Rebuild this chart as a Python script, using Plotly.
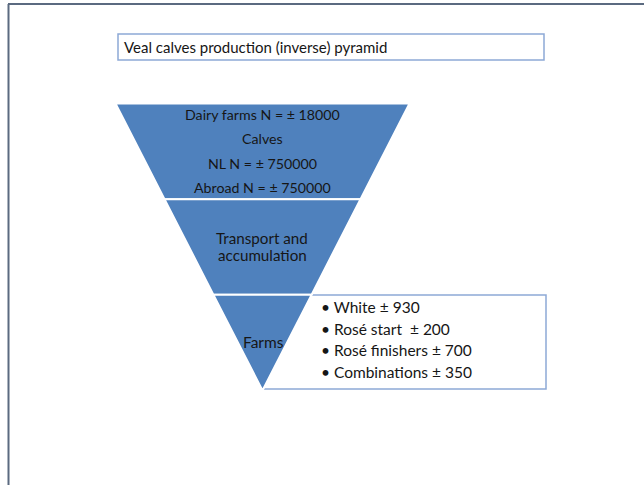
import plotly.graph_objects as go

W, H = 644, 485

# ---- data ----
stage_labels = ["Dairy farms & calves", "Transport and accumulation", "Farms"]
stage_values = [5, 3, 1]  # relative section areas of the inverse pyramid (equal heights)
top_lines = ["Dairy farms N = ± 18000", "Calves", "NL N = ± 750000", "Abroad N = ± 750000"]
middle_text = ["Transport and", "accumulation"]
bottom_text = ["Farms"]
farm_items = ["White ± 930", "Rosé start  ± 200", "Rosé finishers ± 700", "Combinations ± 350"]
title_text = "Veal calves production (inverse) pyramid"

FONT = "Lato, 'Noto Sans', sans-serif"
BLUE = "#4F81BD"
BOX = "#8DA9D6"
FRAME = "#5B6A80"
TXT = "#161616"


def px(x):
    return x / W


def py(y):
    return 1 - y / H


fig = go.Figure()

# inverse pyramid
left, right, top, bottom = 115.5, 409.5, 103.5, 390.5
fig.add_trace(go.Funnelarea(
    labels=stage_labels,
    values=stage_values,
    baseratio=0,
    aspectratio=(bottom - top) / (right - left),
    domain=dict(x=[px(left), px(right)], y=[py(bottom), py(top)]),
    marker=dict(colors=[BLUE] * 3, line=dict(color="white", width=2)),
    textinfo="none",
    hoverinfo="label",
    showlegend=False,
))

shapes = []
# frame (top and left lines)
shapes.append(dict(type="line", xref="paper", yref="paper", x0=px(8), x1=px(W + 5),
                   y0=py(4), y1=py(4), line=dict(color=FRAME, width=2)))
shapes.append(dict(type="line", xref="paper", yref="paper", x0=px(8.5), x1=px(8.5),
                   y0=py(4), y1=py(H + 5), line=dict(color=FRAME, width=2)))
# title box
shapes.append(dict(type="rect", xref="paper", yref="paper", x0=px(118), x1=px(544),
                   y0=py(60), y1=py(34), line=dict(color=BOX, width=1.5)))
# list box (behind pyramid)
shapes.append(dict(type="rect", xref="paper", yref="paper", x0=px(263), x1=px(546),
                   y0=py(389), y1=py(295), line=dict(color=BOX, width=1.5),
                   fillcolor="white", layer="below"))


def ann(x, y, text, size, anchor="center"):
    return dict(xref="paper", yref="paper", x=px(x), y=py(y), text=text,
                showarrow=False, xanchor=anchor, yanchor="middle",
                font=dict(family=FONT, size=size, color=TXT))


annotations = [ann(122, 47, title_text, 15, "left")]
for i, t in enumerate(top_lines):
    annotations.append(ann(262, 114 + i * 24.6, t, 14.2))
for i, t in enumerate(middle_text):
    annotations.append(ann(262, 238 + i * 16.6, t, 15.2))
for t in bottom_text:
    annotations.append(ann(263, 342, t, 15.5))
for i, t in enumerate(farm_items):
    annotations.append(ann(319, 307 + i * 21.7, "• " + t, 15.5, "left"))

fig.update_layout(
    width=W, height=H,
    margin=dict(l=0, r=0, t=0, b=0),
    paper_bgcolor="white", plot_bgcolor="white",
    shapes=shapes, annotations=annotations,
    xaxis=dict(visible=False), yaxis=dict(visible=False),
)

fig.write_html("out.html", config={"displayModeBar": False},
               post_script="document.body.style.margin='0px';")
